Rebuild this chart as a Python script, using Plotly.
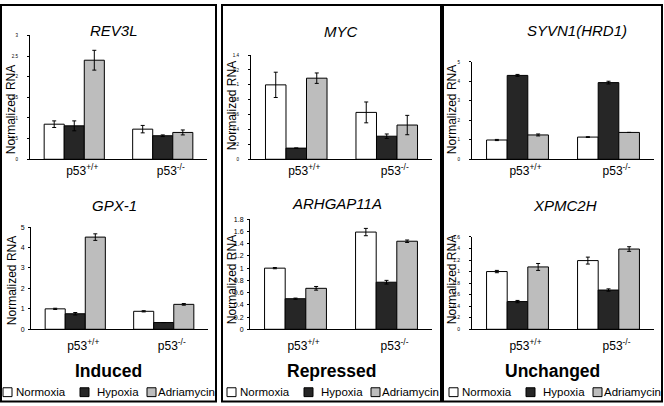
import plotly.graph_objects as go

W, H = 664, 406

groups = ["p53<sup>+/+</sup>", "p53<sup>-/-</sup>"]
conditions = ["Normoxia", "Hypoxia", "Adriamycin"]
colors = ["#ffffff", "#262626", "#bdbdbd"]

# values per gene: one list per condition, [p53+/+, p53-/-]
rev3l_mean = [[0.85, 0.73], [0.81, 0.57], [2.40, 0.65]]
rev3l_err = [[0.08, 0.09], [0.12, 0.02], [0.24, 0.06]]
myc_mean = [[1.00, 0.63], [0.15, 0.31], [1.09, 0.46]]
myc_err = [[0.17, 0.14], [0.0, 0.03], [0.07, 0.13]]
syvn1_mean = [[0.99, 1.14], [4.31, 3.94], [1.25, 1.38]]
syvn1_err = [[0.03, 0.02], [0.05, 0.07], [0.05, 0.0]]
gpx1_mean = [[1.00, 0.88], [0.76, 0.33], [4.51, 1.22]]
gpx1_err = [[0.03, 0.03], [0.06, 0.0], [0.16, 0.04]]
arhgap_mean = [[1.00, 1.59], [0.50, 0.77], [0.67, 1.44]]
arhgap_err = [[0.01, 0.06], [0.01, 0.03], [0.03, 0.02]]
xpmc2h_mean = [[1.00, 1.19], [0.48, 0.68], [1.08, 1.39]]
xpmc2h_err = [[0.02, 0.06], [0.02, 0.02], [0.06, 0.04]]

panels = ["Induced", "Repressed", "Unchanged"]

# (title, means, errs, ymax, dtick, tick font, x0, x1, ytop, ybottom, title x, title y, ytitle x, ytitle y)
charts = [
    ("REV3L", rev3l_mean, rev3l_err, 3, 0.5, 4.5, 30, 207, 32, 158, 114, 27, 11, 108),
    ("MYC", myc_mean, myc_err, 1.4, 0.2, 4.5, 251, 432, 52, 158, 341, 28, 232, 104),
    ("SYVN1(HRD1)", syvn1_mean, syvn1_err, 5, 1, 4.5, 472, 654, 59, 158, 577, 27, 452, 108),
    ("GPX-1", gpx1_mean, gpx1_err, 5, 1, 7, 31, 208, 227, 331, 114, 205, 12, 282),
    ("ARHGAP11A", arhgap_mean, arhgap_err, 1.8, 0.2, 7, 250, 432, 219, 331, 337, 203, 232, 281),
    ("XPMC2H", xpmc2h_mean, xpmc2h_err, 1.6, 0.2, 5, 472, 654, 237, 331, 565, 205, 452, 281),
]

FONT = "Liberation Sans, Arial, sans-serif"

fig = go.Figure()
annotations = []
shapes = []


def note(text, px, py, size, **kw):
    d = dict(text=text, x=px / W, y=1 - py / H, xref="paper", yref="paper",
             showarrow=False, xanchor="center", yanchor="middle",
             font=dict(size=size, color="black", family=FONT))
    d.update(kw)
    annotations.append(d)


for i, (title, means, errs, ymax, dtick, tfs, x0, x1, yt, yb, tx, ty, ytx, yty) in enumerate(charts):
    n = "" if i == 0 else str(i + 1)
    for c, cond in enumerate(conditions):
        fig.add_trace(go.Bar(
            x=groups, y=means[c], name=cond, showlegend=False,
            marker=dict(color=colors[c], line=dict(color="black", width=1)),
            error_y=dict(type="data", array=errs[c], color="black", thickness=1, width=2),
            xaxis="x" + n, yaxis="y" + n,
        ))
    fig.layout["xaxis" + n] = dict(
        domain=[x0 / W, x1 / W], anchor="y" + n,
        showline=True, linecolor="black", linewidth=1,
        tickfont=dict(size=12, color="black", family=FONT),
        ticks="", ticklabelshift=8, ticklabelstandoff=0 if i < 3 else 5,
        fixedrange=True,
    )
    fig.layout["yaxis" + n] = dict(
        domain=[1 - yb / H, 1 - yt / H], anchor="x" + n,
        range=[0, ymax], dtick=dtick, showgrid=False, zeroline=False,
        showline=True, linecolor="black", linewidth=1,
        ticks="outside", ticklen=2, tickcolor="black",
        tickfont=dict(size=tfs, color="black", family=FONT),
        ticklabelstandoff=8 if tfs < 6 else 2,
    )
    note("<i>" + title + "</i>", tx, ty, 15)
    note("Normalized RNA", ytx, yty, 12, textangle=-90)

# panel frames, section names and legends
frames = [(1, 216), (222, 441), (443, 662)]
legend_x = [3, 227, 449]
sq_off = [0, 77, 144]
txt_off = [11, 92, 153]
for p, (fx0, fx1) in enumerate(frames):
    shapes.append(dict(type="rect", xref="paper", yref="paper",
                       x0=fx0 / W, x1=fx1 / W, y0=1 - 404.5 / H, y1=1 - 1 / H,
                       line=dict(color="black", width=2)))
    note("<b>" + panels[p] + "</b>", (fx0 + fx1) / 2, 373, 17.5)
    for c, cond in enumerate(conditions):
        sx = legend_x[p] + sq_off[c]
        shapes.append(dict(type="rect", xref="paper", yref="paper",
                           x0=sx / W, x1=(sx + 9) / W, y0=1 - 399.5 / H, y1=1 - 390.5 / H,
                           fillcolor=colors[c], line=dict(color="black", width=1)))
        note(cond, legend_x[p] + txt_off[c], 395, 11.5, xanchor="left")

fig.update_layout(
    width=W, height=H, margin=dict(l=0, r=0, t=0, b=0),
    paper_bgcolor="white", plot_bgcolor="white",
    barmode="group", bargap=0.32, bargroupgap=0,
    annotations=annotations, shapes=shapes,
    font=dict(family=FONT, color="black"),
)

fig.write_html("out.html", config={"displayModeBar": False},
               post_script="document.body.style.margin='0';")
